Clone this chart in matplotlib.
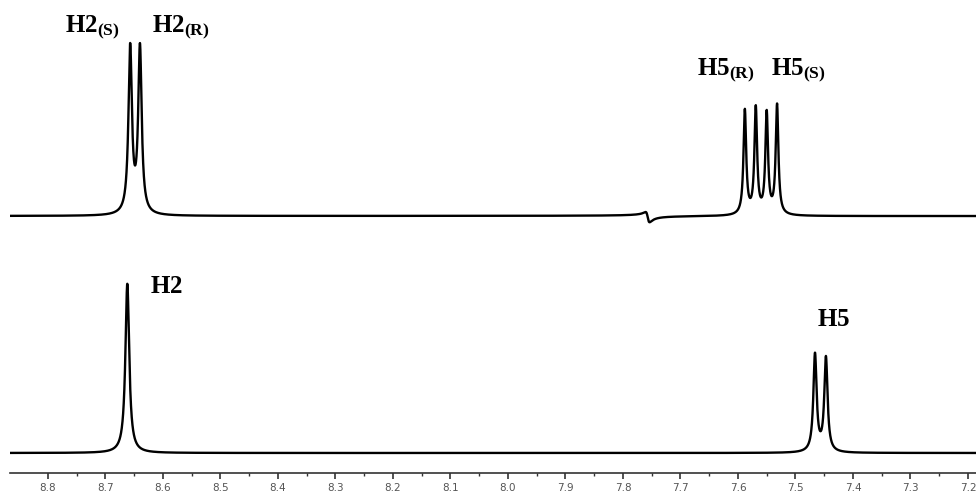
import numpy as np
import matplotlib
matplotlib.use("Agg")
matplotlib.rcParams.update({
    "mathtext.fontset": "custom",
    "mathtext.rm": "Liberation Serif",
    "mathtext.bf": "Liberation Serif:bold",
    "font.family": ["DejaVu Sans"],
})
import matplotlib.pyplot as plt

# --- peak tables (ppm, relative height, HWHM ppm) ---
TOP_SHIFTS = [8.657, 8.640, 7.588, 7.569, 7.550, 7.532]
TOP_HEIGHTS = [0.97, 0.97, 0.61, 0.62, 0.59, 0.64]
TOP_WIDTHS = [0.0036, 0.0036, 0.0028, 0.0028, 0.0028, 0.0028]
TOP_OFFSET = 1.386

BOTTOM_SHIFTS = [8.662, 7.466, 7.447]
BOTTOM_HEIGHTS = [0.99, 0.57, 0.55]
BOTTOM_WIDTHS = [0.0040, 0.0034, 0.0034]

# small phase glitch on the upper trace
GLITCH_SHIFT = 7.757
GLITCH_AMP = 0.06

# label text, anchor ppm, anchor intensity
LABELS = [r"$\mathbf{H2_{(S)}}$", r"$\mathbf{H2_{(R)}}$",
          r"$\mathbf{H5_{(R)}}$", r"$\mathbf{H5_{(S)}}$",
          r"$\mathbf{H2}$", r"$\mathbf{H5}$"]
LABEL_X = [8.770, 8.619, 7.671, 7.543, 8.623, 7.463]
LABEL_Y = [2.462, 2.462, 2.21, 2.21, 0.936, 0.743]

TICKS = [8.8, 8.7, 8.6, 8.5, 8.4, 8.3, 8.2, 8.1, 8.0,
         7.9, 7.8, 7.7, 7.6, 7.5, 7.4, 7.3, 7.2]


def lorentz_sum(x, shifts, heights, widths):
    y = np.zeros_like(x)
    for s, h, g in zip(shifts, heights, widths):
        y += h / (1 + ((x - s) / g) ** 2)
    return y


ppm = np.linspace(8.87, 7.18, 8000)
top = lorentz_sum(ppm, TOP_SHIFTS, TOP_HEIGHTS, TOP_WIDTHS)
u = (ppm - GLITCH_SHIFT) / 0.0035
top += GLITCH_AMP * u / (1 + u ** 2) - 0.008 / (1 + (u / 3) ** 2)
bottom = lorentz_sum(ppm, BOTTOM_SHIFTS, BOTTOM_HEIGHTS, BOTTOM_WIDTHS)

fig = plt.figure(figsize=(9.76, 4.93), dpi=100)
ax = fig.add_axes([10 / 976, 1 - 473 / 493, 1 - 10 / 976, 473 / 493])

ax.plot(ppm, top + TOP_OFFSET, color="black", lw=1.7)
ax.plot(ppm, bottom, color="black", lw=1.7)

for txt, x, y in zip(LABELS, LABEL_X, LABEL_Y):
    ax.text(x, y, txt, fontsize=18, ha="left", va="baseline")

ax.set_xlim(8.866, 7.186)
ax.set_ylim(-0.117, 2.649)
ax.set_xticks(TICKS)
ax.set_xticklabels([f"{t:.1f}" for t in TICKS])
ax.set_xticks(np.array(TICKS[:-1]) - 0.05, minor=True)
ax.set_yticks([])
for side in ("top", "right", "left"):
    ax.spines[side].set_visible(False)
ax.spines["bottom"].set_linewidth(1.2)
ax.spines["bottom"].set_color("#333333")
ax.tick_params(axis="x", which="major", length=4, width=1.2,
               color="#333333", labelsize=7.5, labelcolor="#555555", pad=3)
ax.tick_params(axis="x", which="minor", length=2, width=1.0,
               color="#333333")
ax.patch.set_alpha(0)

fig.savefig("out.png", dpi=100)
